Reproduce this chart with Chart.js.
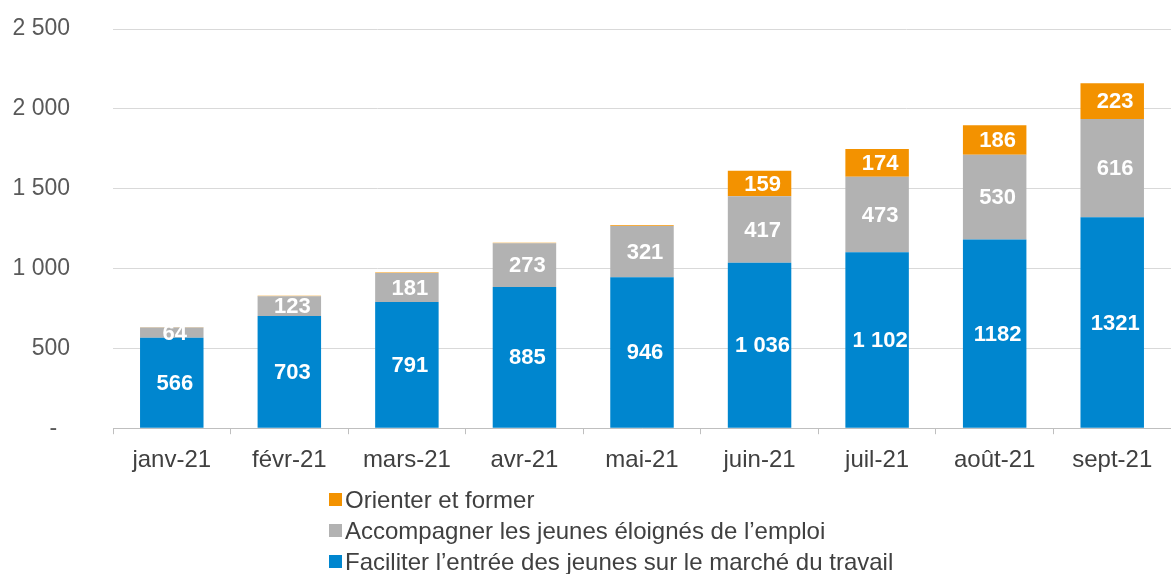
<!DOCTYPE html>
<html lang="fr">
<head>
<meta charset="utf-8">
<script src="https://cdn.jsdelivr.net/npm/chart.js@4/dist/chart.umd.min.js"></script>
<style>
  html, body { margin: 0; padding: 0; background: #fff; }
  #wrap { position: relative; width: 1171px; height: 574px; }
  #legende { position: absolute; left: 329px; top: 485px; font: 24px "Liberation Sans", Arial, sans-serif; color: #404040; }
  #legende div { height: 31px; line-height: 30px; white-space: nowrap; }
  #legende span { display: inline-block; width: 13px; height: 13px; margin-right: 3px; vertical-align: 2px; }
</style>
</head>
<body>
<div id="wrap">
  <canvas id="graphique" width="1171" height="574"></canvas>
  <div id="legende"></div>
</div>
<script>
// Mois
const mois = ['janv-21', 'févr-21', 'mars-21', 'avr-21', 'mai-21', 'juin-21', 'juil-21', 'août-21', 'sept-21'];

// Séries (du bas vers le haut de la pile)
const faciliter = [566, 703, 791, 885, 946, 1036, 1102, 1182, 1321];
const accompagner = [64, 123, 181, 273, 321, 417, 473, 530, 616];
const orienter = [2, 3, 3, 3, 4, 159, 174, 186, 223];

// Étiquettes affichées sur les barres bleues
const etiquettesFaciliter = ['566', '703', '791', '885', '946', '1 036', '1 102', '1182', '1321'];

const couleurs = { bleu: '#0086cf', gris: '#b2b2b2', orange: '#f39200' };

function formatNombre(v) {
    return String(v).replace(/\B(?=(\d{3})+(?!\d))/g, ' ');
}

// Étiquettes de valeur blanches au centre de chaque segment
const etiquettesBarres = {
    id: 'etiquettesBarres',
    afterDatasetsDraw(chart) {
        const ctx = chart.ctx;
        ctx.save();
        ctx.font = 'bold 22px "Liberation Sans", Arial, sans-serif';
        ctx.fillStyle = '#ffffff';
        ctx.textAlign = 'center';
        ctx.textBaseline = 'middle';
        chart.data.datasets.forEach((ds, i) => {
            chart.getDatasetMeta(i).data.forEach((bar, j) => {
                const v = ds.data[j];
                if (v < 50) return;
                const txt = ds.etiquettes ? ds.etiquettes[j] : formatNombre(v);
                const y = (bar.y + bar.base) / 2;
                ctx.fillText(txt, bar.x + 3, y + 1);
            });
        });
        ctx.restore();
    }
};

Chart.defaults.font.family = '"Liberation Sans", Arial, sans-serif';
Chart.defaults.font.size = 23;

new Chart(document.getElementById('graphique'), {
    type: 'bar',
    data: {
        labels: mois,
        datasets: [
            { label: 'Faciliter l’entrée des jeunes sur le marché du travail', data: faciliter, backgroundColor: couleurs.bleu, etiquettes: etiquettesFaciliter },
            { label: 'Accompagner les jeunes éloignés de l’emploi', data: accompagner, backgroundColor: couleurs.gris },
            { label: 'Orienter et former', data: orienter, backgroundColor: couleurs.orange }
        ]
    },
    options: {
        responsive: false,
        animation: false,
        layout: { padding: { top: 29, left: 12, right: 0, bottom: 87 } },
        datasets: { bar: { barPercentage: 0.54, categoryPercentage: 1 } },
        plugins: {
            legend: { display: false },
            tooltip: { enabled: false }
        },
        scales: {
            x: {
                stacked: true,
                border: { color: '#bfbfbf' },
                grid: { offset: true, drawOnChartArea: false, drawTicks: true, tickLength: 6, color: '#bfbfbf' },
                ticks: { color: '#404040', padding: 12, font: { size: 24 } }
            },
            y: {
                stacked: true,
                min: 0,
                max: 2500,
                border: { display: false },
                grid: { color: '#d9d9d9', drawTicks: false },
                // largeur fixe et marges verticales réduites malgré le grand écart des libellés
                afterFit: scale => {
                    scale.width = 101;
                    scale.paddingTop = 12;
                    scale.paddingBottom = 12;
                },
                ticks: {
                    stepSize: 500,
                    padding: 43,
                    color: '#595959',
                    callback: v => v === 0 ? '-  ' : formatNombre(v)
                }
            }
        }
    },
    plugins: [etiquettesBarres]
});

// Légende en liste verticale, ordre inverse de la pile
const legende = document.getElementById('legende');
[['Orienter et former', couleurs.orange],
 ['Accompagner les jeunes éloignés de l’emploi', couleurs.gris],
 ['Faciliter l’entrée des jeunes sur le marché du travail', couleurs.bleu]].forEach(([txt, c]) => {
    const ligne = document.createElement('div');
    const carre = document.createElement('span');
    carre.style.background = c;
    ligne.appendChild(carre);
    ligne.appendChild(document.createTextNode(txt));
    legende.appendChild(ligne);
});
</script>
</body>
</html>
